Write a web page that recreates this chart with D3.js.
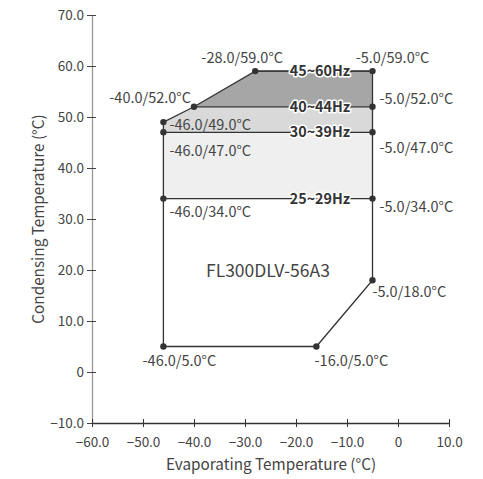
<!DOCTYPE html>
<html><head><meta charset="utf-8">
<script src="https://cdn.jsdelivr.net/npm/d3@7"></script>
<style>
body{margin:0;background:#fff;}
text{font-family:"Noto Sans CJK SC","Noto Sans",sans-serif;}
</style></head>
<body><svg id="c" width="483" height="479"></svg>
<script>
// ---- data ----
const xTicks = [-60,-50,-40,-30,-20,-10,0,10];
const yTicks = [-10,0,10,20,30,40,50,60,70];
const envelopeT = [-46,-16,-5,-5,-28,-40,-46];   // evaporating
const envelopeC = [5,5,18,59,59,52,49];          // condensing
const bandNames = ["45~60Hz","40~44Hz","30~39Hz","25~29Hz"];
const bandLevels = [59,52,47,34];
const bandColors = ["#a6a6a6","#d9d9d9","#efefef","#ffffff"];
const pointT = [-28,-5,-40,-5,-46,-46,-5,-46,-5,-5,-46,-16];
const pointC = [59,59,52,52,49,47,47,34,34,18,5,5];
const modelName = "FL300DLV-56A3";
const xTitle = "Evaporating Temperature (°C)";
const yTitle = "Condensing Temperature (°C)";

const svg = d3.select("#c");
const x = d3.scaleLinear().domain([-60,10]).range([92,449]);
const y = d3.scaleLinear().domain([-10,70]).range([423,15]);
const fmt = d => d===0 ? "0" : d3.format(".1f")(d);

const env = envelopeT.map((t,i)=>[t,envelopeC[i]]);
svg.append("clipPath").attr("id","envClip").append("path")
  .attr("d", d3.line().x(d=>x(d[0])).y(d=>y(d[1]))(env)+"Z");
const g = svg.append("g").attr("clip-path","url(#envClip)");
const tMin = d3.min(envelopeT), tMax = d3.max(envelopeT);
bandLevels.forEach((lv,i)=>{
  const lower = i<bandLevels.length-1 ? bandLevels[i+1] : d3.min(envelopeC);
  const top = i===0 ? d3.max(envelopeC) : lv;
  g.append("rect").attr("x",x(tMin)).attr("width",x(tMax)-x(tMin))
    .attr("y",y(top)).attr("height",y(lower)-y(top)).attr("fill",bandColors[i]);
});
bandLevels.forEach(lv=>{
  let left = tMin;
  if (lv>52) left = -40 + (lv-52)/(59-52)*(12);
  else if (lv>49) left = -46 + (lv-49)/(52-49)*6;
  svg.append("line").attr("x1",x(left)).attr("x2",x(tMax))
    .attr("y1",y(lv)).attr("y2",y(lv)).attr("stroke","#333").attr("stroke-width",1.3);
});
svg.append("path").attr("d", d3.line().x(d=>x(d[0])).y(d=>y(d[1]))(env)+"Z")
  .attr("fill","none").attr("stroke","#333").attr("stroke-width",1.3);

bandNames.forEach((n,i)=>{
  svg.append("text").attr("x",x(-15.3)).attr("y",y(bandLevels[i])).attr("dy","0.35em")
    .attr("text-anchor","middle").attr("font-size",14.3).attr("font-weight","bold")
    .attr("fill","#333").attr("stroke","#fff").attr("stroke-width",3).attr("paint-order","stroke")
    .attr("stroke-linejoin","round").text(n);
});

pointT.forEach((t,i)=>{
  svg.append("circle").attr("cx",x(t)).attr("cy",y(pointC[i])).attr("r",3.2).attr("fill","#333");
});
const lblOff = [
  {dx:-13,dy:-13,a:"middle"},{dx:20,dy:-13,a:"middle"},{dx:-3,dy:-9,a:"end"},{dx:7,dy:-8,a:"start"},
  {dx:6,dy:3,a:"start"},{dx:6,dy:19,a:"start"},{dx:7,dy:16,a:"start"},{dx:6,dy:13,a:"start"},
  {dx:7,dy:8,a:"start"},{dx:0,dy:12,a:"start"},{dx:16,dy:14,a:"middle"},{dx:35,dy:14,a:"middle"}];
pointT.forEach((t,i)=>{
  const o = lblOff[i];
  svg.append("text").attr("x",x(t)+o.dx).attr("y",y(pointC[i])+o.dy).attr("dy","0.35em")
    .attr("text-anchor",o.a).attr("font-size",14.5).attr("fill","#444")
    .text(`${t.toFixed(1)}/${pointC[i].toFixed(1)}°C`);
});
svg.append("text").attr("x",x(-25.5)).attr("y",y(19.8)).attr("dy","0.35em").attr("text-anchor","middle")
  .attr("font-size",17.5).attr("fill","#444").text(modelName);

const xa = svg.append("g").attr("transform",`translate(0,${y(-10)})`)
  .call(d3.axisBottom(x).tickValues(xTicks).tickFormat(fmt).tickSize(0).tickPadding(14));
xa.select(".domain").attr("stroke","#333").attr("stroke-width",1.3);
xa.selectAll(".tick line").attr("y1",-4).attr("y2",4).attr("stroke","#333");
xa.selectAll(".tick text").attr("font-size",13.5).attr("fill","#444").attr("font-family",null);

const ya = svg.append("g").attr("transform",`translate(${x(-60)},0)`)
  .call(d3.axisLeft(y).tickValues(yTicks).tickFormat(fmt).tickSize(0).tickPadding(8));
ya.select(".domain").attr("stroke","#999").attr("stroke-width",1.3);
ya.selectAll(".tick line").attr("x1",-5).attr("x2",4).attr("stroke","#444");
ya.selectAll(".tick text").attr("font-size",13.5).attr("fill","#444").attr("font-family",null);
xa.raise();

svg.append("text").attr("x",271).attr("y",465).attr("dy","0.35em").attr("text-anchor","middle")
  .attr("font-size",15.3).attr("fill","#444").text(xTitle);
svg.append("text").attr("transform","translate(39,219) rotate(-90)").attr("dy","0.35em")
  .attr("text-anchor","middle").attr("font-size",15.3).attr("fill","#444").text(yTitle);
</script></body></html>
